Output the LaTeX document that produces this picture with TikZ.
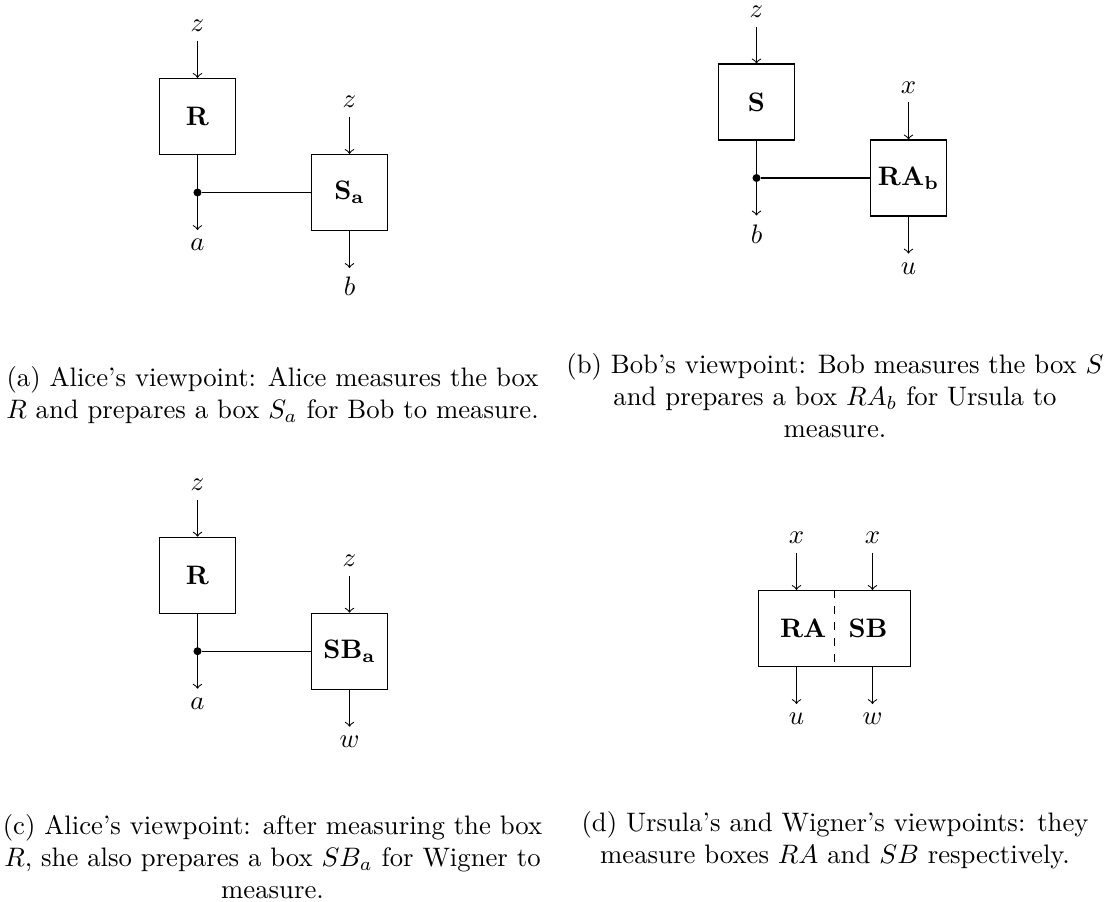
\documentclass[tikz,border=0pt]{standalone}
\begin{document}
\begin{tikzpicture}[x=0.0131579cm, y=-0.0131579cm,
  box/.style={draw, minimum width=1cm, minimum height=1cm, inner sep=2pt},
  widebox/.style={draw, minimum width=2cm, minimum height=1cm, inner sep=0pt},
  lbl/.style={inner sep=3.33pt},
  captxt/.style={align=center, inner sep=0pt},
  flow/.style={->},
  jdot/.style={circle, fill, inner sep=0pt, minimum size=3pt}]
\useasboundingbox (0,0) rectangle (1109,902);

% ---------- (a) ----------
\node[box] (aR) at (197.5,116.5) {\textbf{R}};
\node[box] (aS) at (349.5,192.5) {$\mathbf{S_a}$};
\node[lbl] (azR) at (197.5,25.8) {$z$};
\node[lbl] (azS) at (349.5,101.8) {$z$};
\node[jdot] (aj) at (197.5,192.5) {};
\node[lbl] (aa) at (197.5,245.2) {$a$};
\node[lbl] (ab) at (349.5,286.7) {$b$};
\draw[flow] (azR) -- (aR);
\draw[flow] (azS) -- (aS);
\draw[flow] (aR) -- (aa);
\draw (aj) -- (aS);
\draw[flow] (aS) -- (ab);
\node[captxt] (capA) at (272.5,395) {(a) Alice's viewpoint: Alice measures the box\\$R$ and prepares a box $S_a$ for Bob to measure.};

% ---------- (b) ----------
\node[box] (bS) at (756.5,102) {\textbf{S}};
\node[box] (bRA) at (908.5,178) {$\mathbf{RA_b}$};
\node[inner sep=1pt] (bz) at (756.5,11.8) {$z$};
\node[lbl] (bx) at (908.5,87.3) {$x$};
\node[jdot] (bj) at (756.5,178) {};
\node[lbl] (bb) at (756.5,234.2) {$b$};
\node[lbl] (bu) at (908.5,268.7) {$u$};
\draw[flow, shorten <=2.3pt] (bz) -- (bS);
\draw[flow] (bx) -- (bRA);
\draw[flow] (bS) -- (bb);
\draw (bj) -- (bRA);
\draw[flow] (bRA) -- (bu);
\node[captxt] (capB) at (835,396) {(b) Bob's viewpoint: Bob measures the box $S$\\and prepares a box $RA_b$ for Ursula to\\measure.};

% ---------- (c) ----------
\node[box] (cR) at (197.5,575.2) {\textbf{R}};
\node[box] (cS) at (349.5,651.2) {$\mathbf{SB_a}$};
\node[lbl] (czR) at (197.5,484.5) {$z$};
\node[lbl] (czS) at (349.5,560.5) {$z$};
\node[jdot] (cj) at (197.5,651.2) {};
\node[lbl] (ca) at (197.5,703.9) {$a$};
\node[lbl] (cw) at (349.5,741.9) {$w$};
\draw[flow] (czR) -- (cR);
\draw[flow] (czS) -- (cS);
\draw[flow] (cR) -- (ca);
\draw (cj) -- (cS);
\draw[flow] (cS) -- (cw);
\node[captxt] (capC) at (272.5,856.5) {(c) Alice's viewpoint: after measuring the box\\$R$, she also prepares a box $SB_a$ for Wigner to\\measure.};

% ---------- (d) ----------
\node[widebox] (dbox) at (834.5,628.5) {};
\draw[dashed] (dbox.north) -- (dbox.south);
\node[inner sep=0pt] (dRA) at (803.3,628.5) {\textbf{RA}};
\node[inner sep=0pt] (dSB) at (868,628.5) {\textbf{SB}};
\node[lbl] (dx1) at (796.5,537.8) {$x$};
\node[lbl] (dx2) at (872.5,537.8) {$x$};
\node[lbl] (du) at (796.5,719.2) {$u$};
\node[lbl] (dw) at (872.5,719.2) {$w$};
\draw[flow] (dx1) -- (dx1 |- dbox.north);
\draw[flow] (dx2) -- (dx2 |- dbox.north);
\draw[flow] (du |- dbox.south) -- (du);
\draw[flow] (dw |- dbox.south) -- (dw);
\node[captxt] (capD) at (835,840) {(d) Ursula's and Wigner's viewpoints: they\\measure boxes $RA$ and $SB$ respectively.};
\end{tikzpicture}
\end{document}
